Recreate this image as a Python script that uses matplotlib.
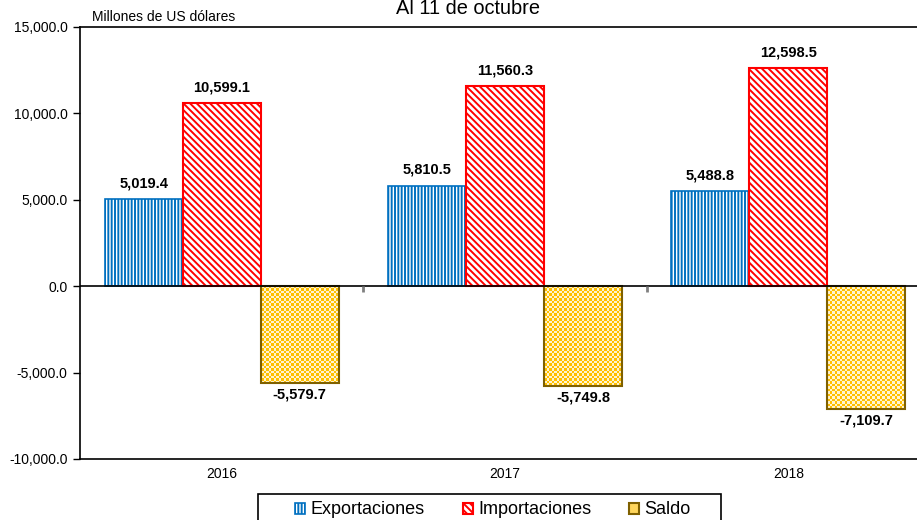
import numpy as np
import matplotlib
matplotlib.use('Agg')
import matplotlib.pyplot as plt
from matplotlib.patches import Patch, Rectangle
from matplotlib.colors import ListedColormap
from matplotlib.ticker import FuncFormatter

plt.rcParams['font.family'] = ['Liberation Sans', 'DejaVu Sans']
plt.rcParams['hatch.linewidth'] = 1.4

#-data
years = ['2016', '2017', '2018']
exportaciones = [5019.4, 5810.5, 5488.8]
importaciones = [10599.1, 11560.3, 12598.5]
saldo = [-5579.7, -5749.8, -7109.7]

blue = '#0070C0'
red = '#FF0000'
gold = '#FFC000'
olive = '#7F6000'

fig = plt.figure(figsize=(9.17, 5.2), dpi=100)
ax = fig.add_axes([80/917, 1 - 459/520, 850/917, 432/520])
ax.set_xlim(-0.5, 2.5)
ax.set_ylim(-10000, 15000)

x = np.arange(len(years))
w = 0.275

ax.bar(x - w, exportaciones, w, facecolor='white', edgecolor=blue, hatch='|||||', linewidth=1.2, zorder=2)
ax.bar(x, importaciones, w, facecolor='white', edgecolor=red, hatch='\\\\\\\\\\', linewidth=1.5, zorder=2)

#-saldo bars: checkerboard fill clipped to the bar, then outline
checker_cmap = ListedColormap(['#FFF3CF', gold])
bars3 = ax.bar(x + w, saldo, w, facecolor='none', edgecolor=olive, linewidth=1.5, zorder=3)
for bar in bars3:
    x0, y0 = bar.get_x(), bar.get_y()
    x1, y1 = x0 + bar.get_width(), y0 + bar.get_height()
    p0 = ax.transData.transform((x0, min(y0, y1)))
    p1 = ax.transData.transform((x1, max(y0, y1)))
    nx = max(int(round(abs(p1[0] - p0[0]) / 2.5)), 1)
    ny = max(int(round(abs(p1[1] - p0[1]) / 2.5)), 1)
    ii, jj = np.indices((ny, nx))
    ax.imshow((ii + jj) % 2, cmap=checker_cmap, extent=[x0, x1, min(y0, y1), max(y0, y1)],
              interpolation='nearest', aspect='auto', zorder=2)

#-value labels
for vals, offs in [(exportaciones, -w), (importaciones, 0), (saldo, w)]:
    for xi, v in zip(x, vals):
        if v >= 0:
            ax.annotate('{:,.1f}'.format(v), (xi + offs, v), xytext=(0, 6.5), textcoords='offset points',
                        ha='center', va='bottom', fontsize=10.5, fontweight='bold')
        else:
            ax.annotate('{:,.1f}'.format(v), (xi + offs, v), xytext=(0, -3.5), textcoords='offset points',
                        ha='center', va='top', fontsize=10.5, fontweight='bold')

#-zero line with category separators
ax.axhline(0, color='black', linewidth=1.2, zorder=4)
ax.vlines([0.5, 1.5], -350, 0, color='#808080', linewidth=2, zorder=4)

ax.set_xlim(-0.5, 2.5)
ax.set_ylim(-10000, 15000)
ax.set_yticks(np.arange(-10000, 15001, 5000))
ax.yaxis.set_major_formatter(FuncFormatter(lambda v, p: '{:,.1f}'.format(v)))
ax.set_xticks(x)
ax.set_xticklabels(years)
ax.tick_params(axis='x', length=0, pad=6, labelsize=10)
ax.tick_params(axis='y', length=5, width=1, labelsize=10, pad=4)
for s in ['left', 'top', 'bottom']:
    ax.spines[s].set_linewidth(1.2)
ax.spines['right'].set_visible(False)

fig.text(92/917, 1 - 17/520, 'Millones de US dólares', fontsize=10, va='center', ha='left')
fig.text(468/917, 1 - 8/520, 'Al 11 de octubre', fontsize=14.4, va='center', ha='center')

#-legend: frame drawn separately, runs off the bottom edge
fig.patches.append(Rectangle((258/917, -0.1), 463/917, 0.1 + 1 - 494/520, transform=fig.transFigure,
                             facecolor='white', edgecolor='black', linewidth=1.2))
handles = [Patch(facecolor='white', edgecolor=blue, hatch='|||||', linewidth=1.2),
           Patch(facecolor='white', edgecolor=red, hatch='\\\\\\\\\\', linewidth=1.5),
           Patch(facecolor='#FFD65C', edgecolor=olive, linewidth=1.5)]
fig.legend(handles, ['Exportaciones', 'Importaciones', 'Saldo'], ncol=3, loc='center',
           bbox_to_anchor=(493/917, 1 - 510/520), fontsize=13, frameon=False,
           handlelength=0.55, handleheight=0.55, handletextpad=0.3, columnspacing=2.1,
           borderpad=0, borderaxespad=0)

fig.savefig('out.png', dpi=100)
